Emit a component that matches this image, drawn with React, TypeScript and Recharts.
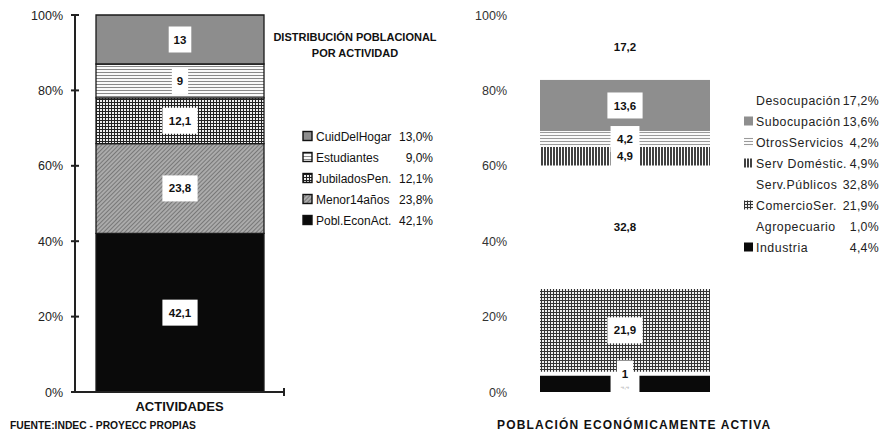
import React from "react"
import { BarChart, Bar, XAxis, YAxis, LabelList } from "recharts"

const leftCategory = ["ACTIVIDADES"]
const leftSeries = ["Pobl.EconAct.", "Menor14años", "JubiladosPen.", "Estudiantes", "CuidDelHogar"]
const leftValues = [42.1, 23.8, 12.1, 9.0, 13.0]

const rightCategory = ["PEA"]
const rightSeries = [
  "Industria",
  "Agropecuario",
  "ComercioSer.",
  "Serv.Públicos",
  "Serv Doméstic.",
  "OtrosServicios",
  "Subocupación",
  "Desocupación",
]
const rightValues = [4.4, 1.0, 21.9, 32.8, 4.9, 4.2, 13.6, 17.2]

const yTicks = [0, 20, 40, 60, 80, 100]

const leftFills = ["#0a0a0a", "url(#diag)", "url(#check)", "url(#hlines)", "#8d8d8d"]
const rightFills = ["#0a0a0a", "#ffffff", "url(#grid)", "#ffffff", "url(#vlines)", "url(#hlines2)", "#8e8e8e", "#ffffff"]

const font = "'Liberation Sans', Arial, Helvetica, sans-serif"

const leftData = leftCategory.map((name) => {
  const row: Record<string, string | number> = { name }
  leftSeries.forEach((s, i) => (row[s] = leftValues[i]))
  return row
})

const rightData = rightCategory.map((name) => {
  const row: Record<string, string | number> = { name }
  rightSeries.forEach((s, i) => (row[s] = rightValues[i]))
  return row
})

const comma = (v: number) => String(v).replace(".", ",")
const pct = (v: number) => v.toFixed(1).replace(".", ",") + "%"

function BoxLabel(props: any) {
  const { x, y, width, height, value, color, boxH, size, shift } = props
  const text = comma(Number(value))
  const cx = Number(x) + Number(width) / 2
  const cy = Number(y) + Number(height) / 2
  const fs = size || 11.5
  const w = text.length * 6.3 + 10
  const h = boxH || 26
  return (
    <g>
      <rect x={cx - w / 2} y={cy - h / 2} width={w} height={h} fill="#fff" />
      <text
        x={cx}
        y={cy + (shift || 0)}
        dy={fs * 0.35}
        textAnchor="middle"
        fontSize={fs}
        fontWeight="bold"
        fontFamily={font}
        fill={color || "#111"}
      >
        {text}
      </text>
    </g>
  )
}

function LeftTick(props: any) {
  const { x, y, payload } = props
  return (
    <g>
      <line x1={x - 4} x2={x + 4} y1={y} y2={y} stroke="#222" strokeWidth={2} />
      <text x={x - 12} y={y} dy={4.5} textAnchor="end" fontSize={12.5} fontFamily={font} fill="#222">
        {payload.value}%
      </text>
    </g>
  )
}

function RightTick(props: any) {
  const { x, y, payload } = props
  return (
    <text x={x - 32} y={y} dy={4.5} textAnchor="end" fontSize={12.5} fontFamily={font} fill="#333">
      {payload.value}%
    </text>
  )
}

function CategoryTick(props: any) {
  const { x, payload } = props
  return (
    <text x={x} y={411} textAnchor="middle" fontSize={13} fontWeight="bold" fontFamily={font} fill="#111">
      {payload.value}
    </text>
  )
}

function Patterns() {
  return (
    <svg width={0} height={0} style={{ position: "absolute" }}>
      <defs>
        <pattern id="diag" width={3} height={3} patternUnits="userSpaceOnUse" patternTransform="rotate(45)">
          <rect width={3} height={3} fill="#ababab" />
          <line x1={0} y1={0} x2={0} y2={3} stroke="#555" strokeWidth={1.2} />
        </pattern>
        <pattern id="check" width={3} height={3} patternUnits="userSpaceOnUse">
          <rect width={3} height={3} fill="#eeeeee" />
          <line x1={0} y1={0.5} x2={3} y2={0.5} stroke="#222" strokeWidth={1} />
          <line x1={0.5} y1={0} x2={0.5} y2={3} stroke="#222" strokeWidth={1} />
        </pattern>
        <pattern id="hlines" width={3} height={3} patternUnits="userSpaceOnUse">
          <rect width={3} height={3} fill="#fafafa" />
          <line x1={0} y1={0.5} x2={3} y2={0.5} stroke="#8a8a8a" strokeWidth={1} />
        </pattern>
        <pattern id="hlines2" width={3} height={3} patternUnits="userSpaceOnUse">
          <rect width={3} height={3} fill="#fafafa" />
          <line x1={0} y1={0.5} x2={3} y2={0.5} stroke="#9a9a9a" strokeWidth={1} />
        </pattern>
        <pattern id="grid" width={3} height={3} patternUnits="userSpaceOnUse">
          <rect width={3} height={3} fill="#eeeeee" />
          <line x1={0} y1={0.5} x2={3} y2={0.5} stroke="#333" strokeWidth={1} />
          <line x1={0.5} y1={0} x2={0.5} y2={3} stroke="#333" strokeWidth={1} />
        </pattern>
        <pattern id="vlines" width={3} height={3} patternUnits="userSpaceOnUse">
          <rect width={3} height={3} fill="#ffffff" />
          <line x1={1} y1={0} x2={1} y2={3} stroke="#111" strokeWidth={1.6} />
        </pattern>
      </defs>
    </svg>
  )
}

export default function App() {
  const leftLegend = leftSeries.map((s, i) => ({ name: s, value: leftValues[i], fill: leftFills[i] })).reverse()
  const rightLegend = rightSeries
    .map((s, i) => ({ name: s, value: rightValues[i], fill: rightFills[i] }))
    .reverse()

  return (
    <div
      style={{
        position: "absolute",
        left: 0,
        top: 0,
        width: 881,
        height: 431,
        background: "#fff",
        fontFamily: font,
        overflow: "hidden",
      }}
    >
      <Patterns />

      <div style={{ position: "absolute", left: 0, top: 0 }}>
        <BarChart width={300} height={431} data={leftData} margin={{ top: 15, right: 16, bottom: 0, left: 0 }}>
          <YAxis
            type="number"
            domain={[0, 100]}
            ticks={yTicks}
            width={75}
            tickSize={0}
            tickMargin={0}
            tickLine={false}
            axisLine={{ stroke: "#222", strokeWidth: 2 }}
            tick={<LeftTick />}
            interval={0}
          />
          <XAxis
            dataKey="name"
            height={39}
            tickLine={false}
            axisLine={{ stroke: "#222", strokeWidth: 2 }}
            tick={<CategoryTick />}
          />
          {leftSeries.map((s, i) => (
            <Bar
              key={s}
              dataKey={s}
              stackId="a"
              fill={leftFills[i]}
              stroke="#1a1a1a"
              strokeWidth={1.3}
              barSize={168}
              isAnimationActive={false}
            >
              <LabelList dataKey={s} content={(p: any) => <BoxLabel {...p} />} />
            </Bar>
          ))}
        </BarChart>
      </div>

      <div style={{ position: "absolute", left: 460, top: 0 }}>
        <BarChart
          width={262}
          height={431}
          data={rightData}
          barCategoryGap="0%"
          margin={{ top: 15, right: 11, bottom: 39, left: 0 }}
        >
          <YAxis
            type="number"
            domain={[0, 100]}
            ticks={yTicks}
            width={79}
            tickSize={0}
            tickMargin={0}
            tickLine={false}
            axisLine={false}
            tick={<RightTick />}
            interval={0}
          />
          <XAxis dataKey="name" hide />
          {rightSeries.map((s, i) => (
            <Bar key={s} dataKey={s} stackId="b" fill={rightFills[i]} barSize={170} isAnimationActive={false}>
              <LabelList
                dataKey={s}
                content={(p: any) =>
                  s === "Industria" ? (
                    <BoxLabel {...p} color="#c4c4c4" boxH={18} size={6} shift={3} />
                  ) : (
                    <BoxLabel {...p} />
                  )
                }
              />
            </Bar>
          ))}
        </BarChart>
      </div>

      <svg width={881} height={431} style={{ position: "absolute", left: 0, top: 0, pointerEvents: "none" }}>
        <line x1={284} x2={284} y1={388} y2={396} stroke="#222" strokeWidth={2} />
        <text x={355} y={41} textAnchor="middle" fontSize={11} fontWeight="bold" fill="#111">
          DISTRIBUCIÓN POBLACIONAL
        </text>
        <text x={355} y={57} textAnchor="middle" fontSize={11} fontWeight="bold" fill="#111">
          POR ACTIVIDAD
        </text>

        {leftLegend.map((d, i) => {
          const cy = 136 + i * 21
          return (
            <g key={d.name}>
              <rect x={303} y={cy - 4.5} width={9} height={9} fill={d.fill} stroke="#111" strokeWidth={1.4} />
              <text x={316} y={cy} dy={4.5} fontSize={12} fill="#111">
                {d.name}
              </text>
              <text x={433} y={cy} dy={4.5} fontSize={12} textAnchor="end" fill="#111">
                {pct(d.value)}
              </text>
            </g>
          )
        })}

        {rightLegend.map((d, i) => {
          const cy = 100 + i * 21
          const white = d.fill === "#ffffff"
          return (
            <g key={d.name}>
              {!white && <rect x={744} y={cy - 4.5} width={9} height={9} fill={d.fill} />}
              <text x={756} y={cy} dy={4.5} fontSize={12.3} letterSpacing={0.55} fill="#222">
                {d.name}
              </text>
              <text x={879} y={cy} dy={4.5} fontSize={12.3} letterSpacing={0.3} textAnchor="end" fill="#222">
                {pct(d.value)}
              </text>
            </g>
          )
        })}

        <text x={10} y={429} fontSize={10.3} fontWeight="bold" fill="#111">
          FUENTE:INDEC - PROYECC PROPIAS
        </text>
        <text x={497} y={429} fontSize={12} fontWeight="bold" letterSpacing={1.15} fill="#111">
          POBLACIÓN ECONÓMICAMENTE ACTIVA
        </text>
      </svg>
    </div>
  )
}
